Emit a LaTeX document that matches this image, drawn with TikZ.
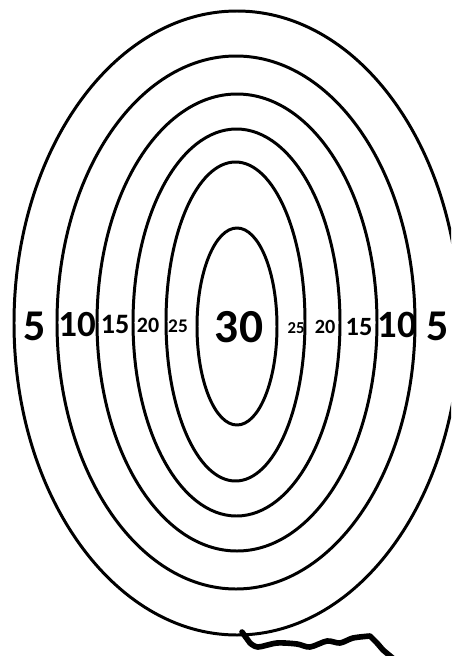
\documentclass[tikz,border=0pt]{standalone}
\usepackage{fontspec}
\setmainfont{Carlito}
\begin{document}
\begin{tikzpicture}[x=0.02cm, y=-0.02cm, line join=round,
      ring/.style={draw, line width=1.7pt},
      pts/.style={font=\bfseries, anchor=base, inner sep=0pt},
      tail/.style={draw, line width=3.2pt, line cap=round}]
    \useasboundingbox (0,0) rectangle (451,656);
    \clip (0,0) rectangle (451,656);
    % rings, outer to inner: centre x, centre y, x radius, y radius
    \foreach \cx/\cy/\rx/\ry in {237/323/223/312, 236/322.5/179/266.5, 237/322.5/140/228.5,
        236.5/322.5/103.5/193.5, 235.5/321.5/69.5/159.5, 237/326.5/40/98.5}
      \draw[ring] (\cx,\cy) ellipse [x radius=\rx, y radius=\ry];
    % scores
    \node[pts, font=\bfseries\fontsize{25}{25}\selectfont] (l5) at (35,340) {5};
    \node[pts, font=\bfseries\fontsize{21}{21}\selectfont] (l10) at (77,336) {10};
    \node[pts, font=\bfseries\fontsize{16}{16}\selectfont] (l15) at (115,333) {15};
    \node[pts, font=\bfseries\fontsize{12.5}{12.5}\selectfont] (l20) at (148,332) {20};
    \node[pts, font=\bfseries\fontsize{11}{11}\selectfont] (l25) at (178,332) {25};
    \node[pts, font=\bfseries\fontsize{27}{27}\selectfont] (c30) at (239,342) {30};
    \node[pts, font=\bfseries\fontsize{9.5}{9.5}\selectfont] (r25) at (296,333) {25};
    \node[pts, font=\bfseries\fontsize{11.5}{11.5}\selectfont] (r20) at (325,333) {20};
    \node[pts, font=\bfseries\fontsize{15}{15}\selectfont] (r15) at (359,335) {15};
    \node[pts, font=\bfseries\fontsize{22}{22}\selectfont] (r10) at (397,337) {10};
    \node[pts, font=\bfseries\fontsize{25}{25}\selectfont] (r5) at (438,340) {5};
    % string
    \coordinate (knot) at (242,632);
    \draw[tail] (knot) -- (250,643) plot[smooth] coordinates {(250,643) (258,647) (277,643)
        (297,644) (310,647) (327,641) (340,643) (353,638) (370,636)} -- (377,643) -- (383,650) -- (395,660);
\end{tikzpicture}
\end{document}
